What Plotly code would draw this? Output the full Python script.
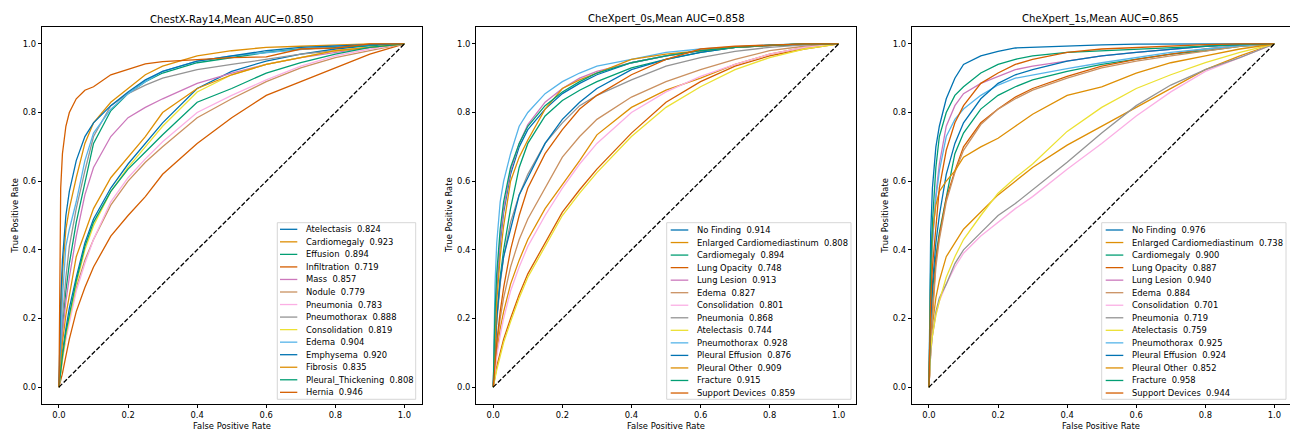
import plotly.graph_objects as go

# ---------------- data ----------------
FPR = [0, 0.005, 0.01, 0.02, 0.03, 0.05, 0.075, 0.1, 0.15, 0.2, 0.25, 0.3,
       0.4, 0.5, 0.6, 0.7, 0.8, 0.9, 1.0]
DIAG = [0.0, 1.0]

TITLES = ["ChestX-Ray14,Mean AUC=0.850",
          "CheXpert_0s,Mean AUC=0.858",
          "CheXpert_1s,Mean AUC=0.865"]

NIH_LABELS = ["Atelectasis", "Cardiomegaly", "Effusion", "Infiltration", "Mass",
              "Nodule", "Pneumonia", "Pneumothorax", "Consolidation", "Edema",
              "Emphysema", "Fibrosis", "Pleural_Thickening", "Hernia"]
NIH_AUC = ["0.824", "0.923", "0.894", "0.719", "0.857", "0.779", "0.783",
           "0.888", "0.819", "0.904", "0.920", "0.835", "0.808", "0.946"]
NIH_TPR = [
    [0, 0.06, 0.10, 0.17, 0.23, 0.32, 0.42, 0.49, 0.58, 0.65, 0.71, 0.77, 0.87, 0.92, 0.95, 0.97, 0.985, 0.995, 1],   # Atelectasis
    [0, 0.20, 0.33, 0.46, 0.52, 0.61, 0.71, 0.77, 0.83, 0.87, 0.91, 0.935, 0.965, 0.98, 0.99, 0.993, 0.997, 1, 1],    # Cardiomegaly
    [0, 0.10, 0.17, 0.28, 0.36, 0.48, 0.60, 0.71, 0.805, 0.855, 0.89, 0.915, 0.945, 0.96, 0.975, 0.985, 0.99, 0.996, 1],  # Effusion
    [0, 0.02, 0.04, 0.09, 0.14, 0.22, 0.29, 0.35, 0.44, 0.50, 0.555, 0.62, 0.71, 0.785, 0.85, 0.89, 0.93, 0.97, 1],  # Infiltration
    [0, 0.10, 0.16, 0.25, 0.32, 0.44, 0.56, 0.64, 0.73, 0.785, 0.815, 0.84, 0.885, 0.915, 0.94, 0.96, 0.975, 0.99, 1],  # Mass
    [0, 0.06, 0.09, 0.15, 0.20, 0.29, 0.37, 0.43, 0.53, 0.60, 0.655, 0.70, 0.785, 0.84, 0.89, 0.93, 0.96, 0.98, 1],   # Nodule
    [0, 0.05, 0.08, 0.14, 0.19, 0.28, 0.36, 0.43, 0.54, 0.61, 0.665, 0.715, 0.80, 0.85, 0.895, 0.935, 0.965, 0.985, 1],  # Pneumonia
    [0, 0.12, 0.20, 0.32, 0.41, 0.52, 0.63, 0.73, 0.82, 0.855, 0.88, 0.90, 0.925, 0.94, 0.955, 0.97, 0.98, 0.99, 1],  # Pneumothorax
    [0, 0.05, 0.08, 0.15, 0.20, 0.30, 0.40, 0.47, 0.57, 0.64, 0.70, 0.76, 0.86, 0.91, 0.94, 0.96, 0.98, 0.99, 1],     # Consolidation
    [0, 0.15, 0.26, 0.41, 0.46, 0.54, 0.66, 0.74, 0.81, 0.855, 0.89, 0.92, 0.95, 0.965, 0.975, 0.985, 0.993, 0.998, 1],  # Edema
    [0, 0.25, 0.37, 0.50, 0.57, 0.66, 0.73, 0.77, 0.82, 0.86, 0.895, 0.92, 0.95, 0.965, 0.98, 0.99, 0.995, 0.998, 1],  # Emphysema
    [0, 0.08, 0.13, 0.21, 0.27, 0.38, 0.45, 0.52, 0.61, 0.67, 0.73, 0.80, 0.87, 0.91, 0.94, 0.96, 0.98, 0.99, 1],     # Fibrosis
    [0, 0.05, 0.09, 0.16, 0.21, 0.31, 0.41, 0.48, 0.57, 0.635, 0.685, 0.735, 0.83, 0.87, 0.915, 0.945, 0.97, 0.99, 1],  # Pleural_Thickening
    [0, 0.58, 0.68, 0.76, 0.80, 0.84, 0.865, 0.875, 0.91, 0.925, 0.942, 0.948, 0.955, 0.96, 0.962, 0.985, 0.988, 1, 1],  # Hernia
]

CHEX_LABELS = ["No Finding", "Enlarged Cardiomediastinum", "Cardiomegaly",
               "Lung Opacity", "Lung Lesion", "Edema", "Consolidation",
               "Pneumonia", "Atelectasis", "Pneumothorax", "Pleural Effusion",
               "Pleural Other", "Fracture", "Support Devices"]

CHEX0_AUC = ["0.914", "0.808", "0.894", "0.748", "0.913", "0.827", "0.801",
             "0.868", "0.744", "0.928", "0.876", "0.909", "0.915", "0.859"]
CHEX0_TPR = [
    [0, 0.18, 0.28, 0.42, 0.51, 0.62, 0.70, 0.75, 0.81, 0.855, 0.885, 0.91, 0.945, 0.965, 0.98, 0.99, 0.996, 0.999, 1],  # No Finding
    [0, 0.06, 0.10, 0.17, 0.22, 0.30, 0.37, 0.43, 0.52, 0.59, 0.66, 0.735, 0.815, 0.865, 0.90, 0.94, 0.97, 0.99, 1],   # Enlarged Cardiomediastinum
    [0, 0.12, 0.20, 0.32, 0.40, 0.52, 0.64, 0.71, 0.79, 0.835, 0.865, 0.89, 0.93, 0.955, 0.975, 0.99, 0.995, 1, 1],    # Cardiomegaly
    [0, 0.03, 0.06, 0.10, 0.14, 0.20, 0.27, 0.33, 0.42, 0.51, 0.575, 0.635, 0.74, 0.83, 0.89, 0.935, 0.965, 0.985, 1],  # Lung Opacity
    [0, 0.20, 0.30, 0.43, 0.52, 0.63, 0.71, 0.765, 0.83, 0.87, 0.90, 0.92, 0.945, 0.965, 0.98, 0.99, 0.995, 1, 1],     # Lung Lesion
    [0, 0.07, 0.12, 0.20, 0.26, 0.35, 0.43, 0.49, 0.58, 0.67, 0.73, 0.78, 0.845, 0.89, 0.925, 0.955, 0.98, 0.993, 1],  # Edema
    [0, 0.05, 0.09, 0.15, 0.20, 0.28, 0.35, 0.41, 0.50, 0.58, 0.65, 0.71, 0.80, 0.86, 0.905, 0.94, 0.97, 0.99, 1],     # Consolidation
    [0, 0.12, 0.19, 0.30, 0.38, 0.48, 0.56, 0.62, 0.71, 0.77, 0.82, 0.85, 0.895, 0.935, 0.96, 0.978, 0.99, 0.997, 1],  # Pneumonia
    [0, 0.03, 0.05, 0.09, 0.13, 0.19, 0.26, 0.32, 0.41, 0.50, 0.565, 0.625, 0.73, 0.815, 0.875, 0.925, 0.96, 0.985, 1],  # Atelectasis
    [0, 0.30, 0.42, 0.54, 0.60, 0.68, 0.76, 0.80, 0.855, 0.89, 0.915, 0.935, 0.955, 0.975, 0.985, 0.992, 0.997, 1, 1],  # Pneumothorax
    [0, 0.10, 0.20, 0.31, 0.38, 0.46, 0.56, 0.61, 0.71, 0.78, 0.83, 0.87, 0.925, 0.955, 0.975, 0.99, 0.995, 1, 1],     # Pleural Effusion
    [0, 0.15, 0.25, 0.38, 0.47, 0.60, 0.67, 0.72, 0.81, 0.87, 0.895, 0.915, 0.955, 0.97, 0.98, 0.99, 0.995, 1, 1],     # Pleural Other
    [0, 0.22, 0.33, 0.46, 0.54, 0.64, 0.71, 0.76, 0.82, 0.86, 0.89, 0.915, 0.945, 0.965, 0.98, 0.99, 0.996, 1, 1],     # Fracture
    [0, 0.08, 0.13, 0.22, 0.29, 0.40, 0.50, 0.58, 0.68, 0.75, 0.81, 0.85, 0.91, 0.955, 0.985, 0.993, 0.997, 1, 1],     # Support Devices
]

CHEX1_AUC = ["0.976", "0.738", "0.900", "0.887", "0.940", "0.884", "0.701",
             "0.719", "0.759", "0.925", "0.924", "0.852", "0.958", "0.944"]
CHEX1_TPR = [
    [0, 0.45, 0.58, 0.70, 0.76, 0.84, 0.90, 0.94, 0.965, 0.978, 0.988, 0.99, 0.995, 0.997, 0.999, 1, 1, 1, 1],        # No Finding
    [0, 0.12, 0.18, 0.26, 0.31, 0.38, 0.42, 0.46, 0.51, 0.56, 0.60, 0.64, 0.705, 0.76, 0.815, 0.87, 0.925, 0.965, 1],  # Enlarged Cardiomediastinum
    [0, 0.20, 0.28, 0.38, 0.45, 0.55, 0.68, 0.74, 0.81, 0.85, 0.875, 0.895, 0.92, 0.94, 0.955, 0.97, 0.98, 0.993, 1],  # Cardiomegaly
    [0, 0.12, 0.22, 0.37, 0.44, 0.55, 0.63, 0.70, 0.77, 0.81, 0.845, 0.87, 0.905, 0.935, 0.955, 0.97, 0.985, 0.995, 1],  # Lung Opacity
    [0, 0.30, 0.42, 0.56, 0.65, 0.76, 0.82, 0.855, 0.885, 0.905, 0.925, 0.935, 0.95, 0.965, 0.975, 0.985, 0.993, 0.998, 1],  # Lung Lesion
    [0, 0.10, 0.20, 0.35, 0.43, 0.54, 0.625, 0.69, 0.765, 0.81, 0.84, 0.865, 0.90, 0.93, 0.95, 0.965, 0.98, 0.993, 1],  # Edema
    [0, 0.10, 0.15, 0.21, 0.25, 0.30, 0.35, 0.39, 0.44, 0.48, 0.52, 0.555, 0.635, 0.71, 0.79, 0.86, 0.92, 0.96, 1],    # Consolidation
    [0, 0.10, 0.15, 0.22, 0.26, 0.30, 0.36, 0.40, 0.45, 0.50, 0.535, 0.575, 0.655, 0.74, 0.82, 0.88, 0.925, 0.96, 1],  # Pneumonia
    [0, 0.11, 0.15, 0.21, 0.25, 0.32, 0.38, 0.43, 0.50, 0.565, 0.61, 0.65, 0.745, 0.815, 0.87, 0.91, 0.945, 0.975, 1],  # Atelectasis
    [0, 0.30, 0.42, 0.55, 0.63, 0.73, 0.78, 0.81, 0.85, 0.88, 0.90, 0.91, 0.928, 0.945, 0.96, 0.975, 0.985, 0.995, 1],  # Pneumothorax
    [0, 0.20, 0.30, 0.42, 0.50, 0.62, 0.71, 0.77, 0.84, 0.885, 0.91, 0.925, 0.95, 0.965, 0.975, 0.985, 0.993, 0.998, 1],  # Pleural Effusion
    [0, 0.30, 0.45, 0.53, 0.57, 0.60, 0.63, 0.67, 0.70, 0.725, 0.76, 0.795, 0.85, 0.875, 0.915, 0.945, 0.965, 0.985, 1],  # Pleural Other
    [0, 0.35, 0.48, 0.64, 0.73, 0.80, 0.85, 0.875, 0.915, 0.94, 0.955, 0.965, 0.975, 0.98, 0.985, 0.99, 0.995, 0.998, 1],  # Fracture
    [0, 0.25, 0.35, 0.47, 0.58, 0.69, 0.77, 0.82, 0.885, 0.915, 0.94, 0.955, 0.975, 0.985, 0.99, 0.995, 0.998, 1, 1],  # Support Devices
]

TICKS = [0.0, 0.2, 0.4, 0.6, 0.8, 1.0]

# ---------------- style ----------------
COLORS = ["#0173B2", "#DE8F05", "#029E73", "#D55E00", "#CC78BC",
          "#CA9161", "#FBAFE4", "#949494", "#ECE133", "#56B4E9"]
FONT = "DejaVu Sans"
W, H = 1290, 433
AX_TOP, AX_BOT = 26.7, 404.3          # px
AX_LEFT = [41.7, 476.0, 911.7]        # px
AX_RIGHT = [421.7, 856.0, 1289.5]     # px
PX_PER_UNIT = 380.0 / 1.1
LEG_BOX = [(277.3, 415.7), (666.7, 851.0), (1101.7, 1286.0)]
LEG_LINE = [(280.0, 297.3), (670.7, 688.3), (1105.7, 1123.3)]
LEG_TEXT = [304.3, 695.0, 1130.0]
LEG_Y0 = [229.3, 230.0, 230.0]
LEG_STEP = 12.54
LEG_TOP, LEG_BOTTOM = 222.7, 399.3
LW = 1.3


def px(x):
    return x / W


def py(y):
    return (H - y) / H


panels = [
    (NIH_LABELS, NIH_AUC, NIH_TPR),
    (CHEX_LABELS, CHEX0_AUC, CHEX0_TPR),
    (CHEX_LABELS, CHEX1_AUC, CHEX1_TPR),
]

fig = go.Figure()
shapes = []
annotations = []

for p, (labels, aucs, tprs) in enumerate(panels):
    xa = "x" if p == 0 else f"x{p + 1}"
    ya = "y" if p == 0 else f"y{p + 1}"
    for i, (lab, auc, tpr) in enumerate(zip(labels, aucs, tprs)):
        col = COLORS[i % len(COLORS)]
        fig.add_trace(go.Scatter(
            x=FPR, y=tpr, mode="lines", name=f"{lab}  {auc}",
            line=dict(color=col, width=LW), xaxis=xa, yaxis=ya,
            showlegend=False, hoverinfo="name+x+y"))
        # legend entry
        yy = LEG_Y0[p] + LEG_STEP * i
        shapes.append(dict(type="line", xref="paper", yref="paper",
                           x0=px(LEG_LINE[p][0]), x1=px(LEG_LINE[p][1]),
                           y0=py(yy), y1=py(yy), layer="above",
                           line=dict(color=col, width=LW)))
        annotations.append(dict(
            xref="paper", yref="paper", x=px(LEG_TEXT[p]), y=py(yy),
            xanchor="left", yanchor="middle", showarrow=False,
            text=f"{lab}\u00a0\u00a0{auc}",
            font=dict(family=FONT, size=8.4, color="#000000")))
    fig.add_trace(go.Scatter(
        x=DIAG, y=DIAG, mode="lines", showlegend=False,
        line=dict(color="black", width=LW, dash="4.6px,2px"),
        xaxis=xa, yaxis=ya, hoverinfo="skip"))

    # legend frame (drawn below the entries)
    shapes.insert(0, dict(type="rect", xref="paper", yref="paper",
                          x0=px(LEG_BOX[p][0]), x1=px(LEG_BOX[p][1]),
                          y0=py(LEG_BOTTOM), y1=py(LEG_TOP), layer="above",
                          fillcolor="rgba(255,255,255,0.85)",
                          line=dict(color="#cccccc", width=0.8)))

    left, right = AX_LEFT[p], AX_RIGHT[p]
    xmax = -0.05 + (right - left) / PX_PER_UNIT
    axis_common = dict(showgrid=False, zeroline=False, showline=True,
                       linecolor="black", linewidth=0.8, mirror=True,
                       ticks="outside", ticklen=3, tickwidth=0.8,
                       tickcolor="black", tickvals=TICKS,
                       ticktext=[f"{t:.1f}" for t in TICKS],
                       tickfont=dict(family=FONT, size=8.4, color="#000000"),
                       automargin=False, fixedrange=True)
    fig.layout[f"xaxis{'' if p == 0 else p + 1}"] = dict(
        domain=[px(left), px(right)], range=[-0.05, xmax],
        anchor=ya, **axis_common)
    fig.layout[f"yaxis{'' if p == 0 else p + 1}"] = dict(
        domain=[py(AX_BOT), py(AX_TOP)], range=[-0.05, 1.05],
        anchor=xa, **axis_common)

    cx = (left + right) / 2
    annotations.append(dict(xref="paper", yref="paper", x=px(cx), y=py(19),
                            xanchor="center", yanchor="middle", showarrow=False,
                            text=TITLES[p],
                            font=dict(family=FONT, size=10.1, color="#000000")))
    annotations.append(dict(xref="paper", yref="paper", x=px(cx), y=py(425.7),
                            xanchor="center", yanchor="middle", showarrow=False,
                            text="False Positive Rate",
                            font=dict(family=FONT, size=8.4, color="#000000")))
    annotations.append(dict(xref="paper", yref="paper", x=px(left - 27.5),
                            y=py((AX_TOP + AX_BOT) / 2),
                            xanchor="center", yanchor="middle", showarrow=False,
                            textangle=-90, text="True Positive Rate",
                            font=dict(family=FONT, size=8.4, color="#000000")))

fig.update_layout(width=W, height=H, autosize=False,
                  margin=dict(l=0, r=0, t=0, b=0),
                  paper_bgcolor="white", plot_bgcolor="white",
                  showlegend=False, shapes=shapes, annotations=annotations,
                  font=dict(family=FONT, color="#000000"))

fig.write_html("out.html",
               config={"displayModeBar": False},
               post_script="document.body.style.margin='0px';"
                           "document.body.style.overflow='hidden';")
